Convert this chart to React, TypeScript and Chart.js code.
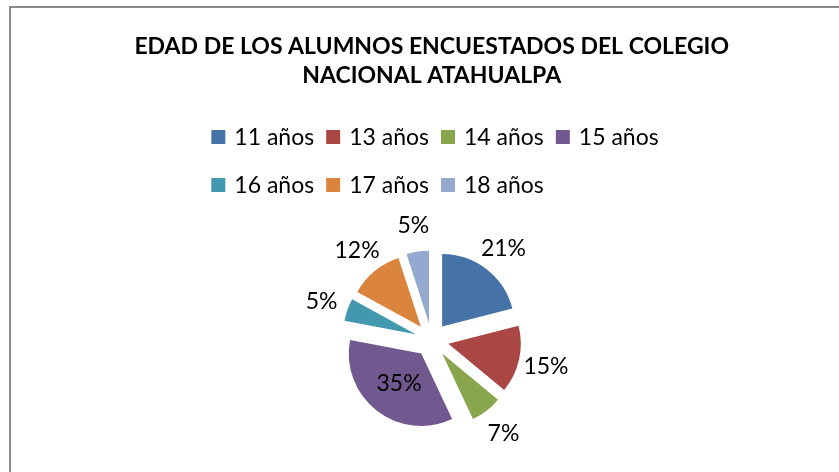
import React, { useEffect, useRef } from 'react';
import { Chart, registerables } from 'chart.js';

Chart.register(...registerables);

const titleLines = ['EDAD DE LOS ALUMNOS ENCUESTADOS DEL COLEGIO', 'NACIONAL ATAHUALPA'];
const categories = ['11 años', '13 años', '14 años', '15 años', '16 años', '17 años', '18 años'];
const shares = [21, 15, 7, 35, 5, 12, 5];
const sliceColors = ['#4572A7', '#AA4643', '#89A54E', '#71588F', '#4198AF', '#DB843D', '#93A9CF'];
const labelInside = [false, false, false, true, false, false, false];

const FONT = 'Lato, "Open Sans", sans-serif';
const EXPLODE = 0.235; // fraction of radius
const LABEL_SIZE = 23;
const LEGEND_SIZE = 23;

const explodePlugin = {
  id: 'explodeSlices',
  afterDatasetUpdate(chart: any, args: any) {
    args.meta.data.forEach((arc: any) => {
      const mid = (arc.startAngle + arc.endAngle) / 2;
      const d = arc.outerRadius * EXPLODE;
      arc.x += Math.cos(mid) * d;
      arc.y += Math.sin(mid) * d;
    });
  },
};

const labelPlugin = {
  id: 'sliceLabels',
  afterDatasetsDraw(chart: any) {
    const ctx = chart.ctx;
    const meta = chart.getDatasetMeta(0);
    const values: number[] = chart.data.datasets[0].data;
    const total = values.reduce((a, b) => a + b, 0);
    ctx.save();
    ctx.font = `${LABEL_SIZE}px ${FONT}`;
    ctx.fillStyle = '#000';
    ctx.textAlign = 'center';
    ctx.textBaseline = 'middle';
    meta.data.forEach((arc: any, i: number) => {
      const mid = (arc.startAngle + arc.endAngle) / 2;
      const r = arc.outerRadius;
      const dist = labelInside[i] ? r * 0.5 : r * 1.38;
      const x = arc.x + Math.cos(mid) * dist;
      const y = arc.y + Math.sin(mid) * dist;
      ctx.fillText(`${Math.round((values[i] / total) * 100)}%`, x, y + 1);
    });
    ctx.restore();
  },
};

const legendPlugin = {
  id: 'excelLegend',
  afterDraw(chart: any) {
    const ctx = chart.ctx;
    const labels: string[] = chart.data.labels;
    const colors: string[] = chart.data.datasets[0].backgroundColor;
    const box = 14;
    const textGap = 9;
    const itemGap = 12;
    const maxRow = 470;
    const centerX = 435;
    const rowY = [137, 185];
    ctx.save();
    ctx.font = `${LEGEND_SIZE}px ${FONT}`;
    ctx.textBaseline = 'middle';
    ctx.textAlign = 'left';
    const widths = labels.map((l) => box + textGap + ctx.measureText(l).width);
    const rows: number[][] = [[]];
    let w = 0;
    widths.forEach((iw, i) => {
      const add = (rows[rows.length - 1].length ? itemGap : 0) + iw;
      if (rows[rows.length - 1].length && w + add > maxRow) {
        rows.push([i]);
        w = iw;
      } else {
        rows[rows.length - 1].push(i);
        w += add;
      }
    });
    const row0Width = rows[0].reduce((s, i, k) => s + widths[i] + (k ? itemGap : 0), 0);
    const startX = centerX - row0Width / 2;
    rows.forEach((row, r) => {
      let x = startX;
      const y = rowY[r] ?? rowY[0] + r * 48;
      row.forEach((i) => {
        ctx.fillStyle = colors[i];
        ctx.fillRect(x, y - box / 2, box, box);
        ctx.fillStyle = '#000';
        ctx.fillText(labels[i], x + box + textGap, y + 1);
        x += widths[i] + itemGap;
      });
    });
    ctx.restore();
  },
};

export default function App() {
  const canvasRef = useRef<HTMLCanvasElement>(null);

  useEffect(() => {
    if (!canvasRef.current) return;
    const chart = new Chart(canvasRef.current, {
      type: 'pie',
      data: {
        labels: categories,
        datasets: [
          {
            data: shares,
            backgroundColor: sliceColors,
            borderWidth: 0,
            clip: false,
          } as any,
        ],
      },
      options: {
        animation: false,
        responsive: true,
        maintainAspectRatio: false,
        events: [],
        layout: { padding: { left: 24.4, right: 0, top: 0, bottom: 59.5 } },
        plugins: {
          legend: { display: false },
          tooltip: { enabled: false },
          title: {
            display: true,
            text: titleLines,
            color: '#000',
            font: { family: FONT, weight: 'bold', size: 23, lineHeight: '29px' },
            padding: { top: 32, bottom: 177.5 },
          },
        },
      },
      plugins: [explodePlugin, labelPlugin, legendPlugin],
    });
    return () => chart.destroy();
  }, []);

  return (
    <div style={{ position: 'fixed', left: 0, top: 0, width: 839, height: 472, background: '#fff', overflow: 'hidden' }}>
      <div
        style={{
          position: 'absolute',
          left: 9,
          top: 6,
          width: 2000,
          height: 2000,
          borderLeft: '2px solid #8a8a8a',
          borderTop: '2px solid #8a8a8a',
        }}
      />
      <canvas ref={canvasRef} style={{ position: 'absolute', left: 0, top: 0, width: 839, height: 472 }} />
    </div>
  );
}
